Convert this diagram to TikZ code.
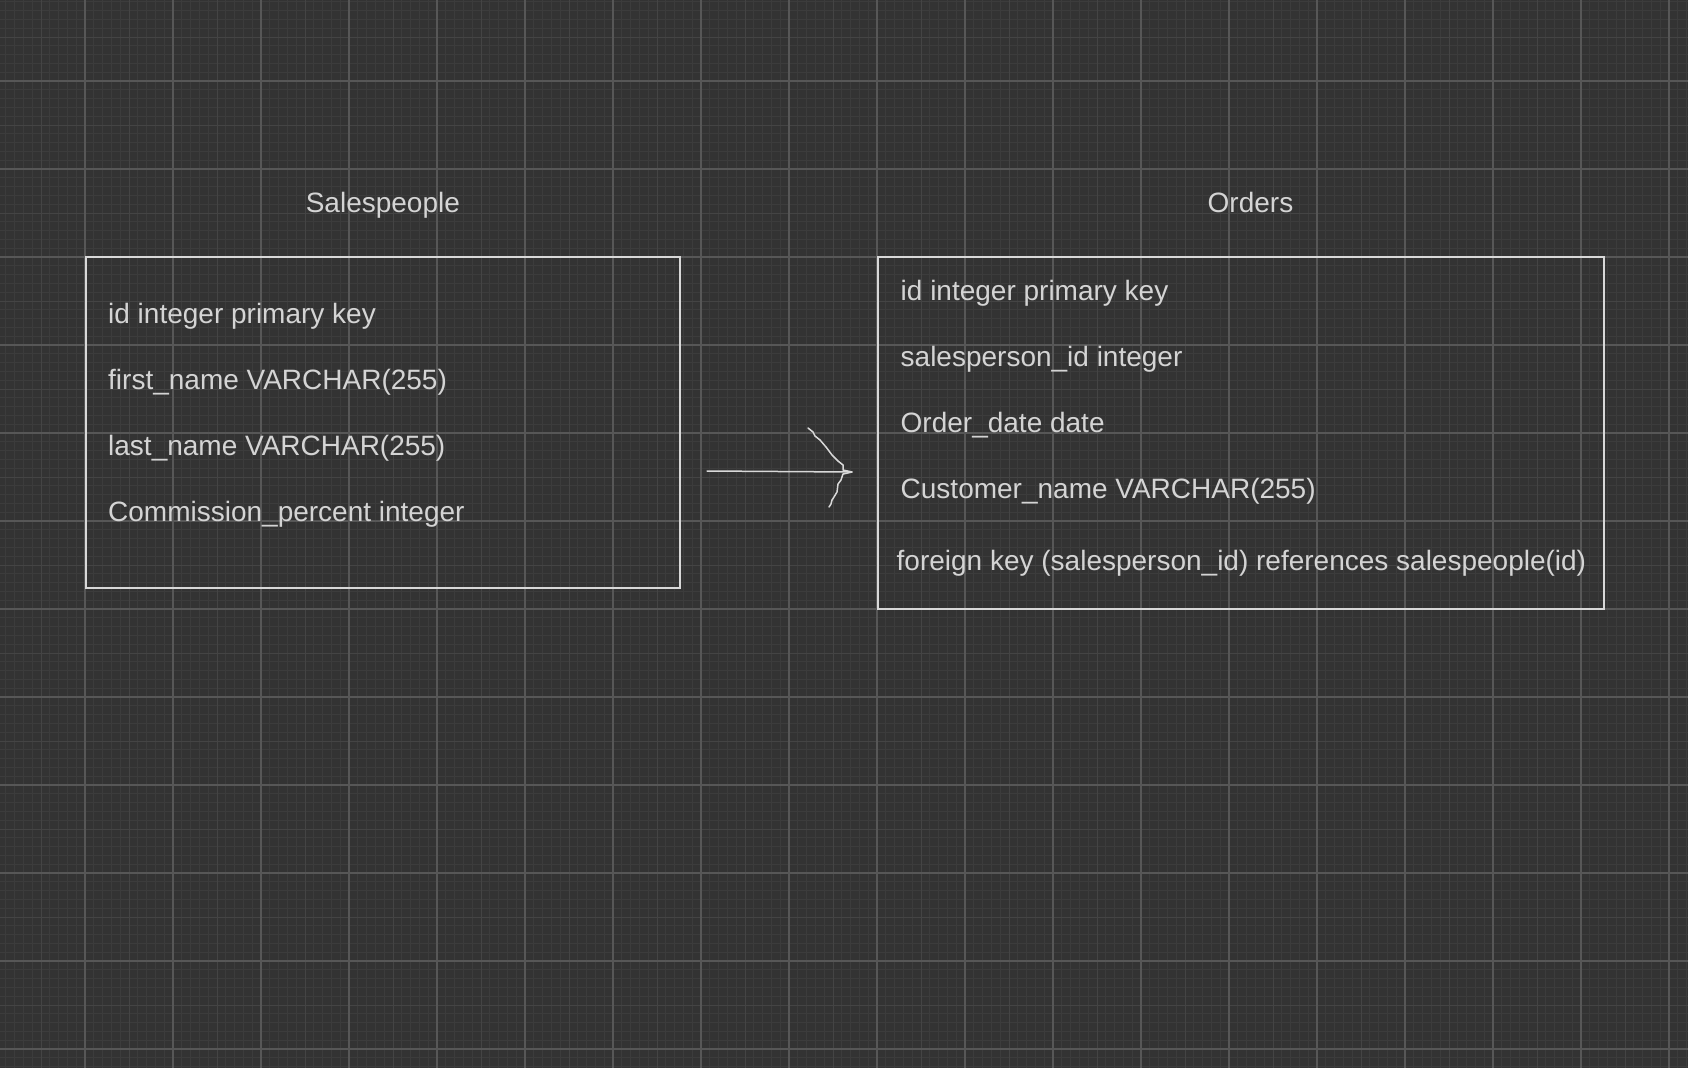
\documentclass[tikz,border=0pt]{standalone}
\usepackage{fontspec}
\setmainfont{Liberation Sans}
\usepackage{xcolor}
\usepackage{tikz}
\usetikzlibrary{positioning}
\definecolor{canvas}{HTML}{333333}
\definecolor{gridminor}{HTML}{3C3C3C}
\definecolor{gridmid}{HTML}{444444}
\definecolor{gridmajor}{HTML}{575757}
\definecolor{ink}{HTML}{D4D4D4}
\definecolor{frame}{HTML}{D8D8D8}
\tikzset{
    table/.style = {
        draw = frame, line width = 1.7pt,
        anchor = north west, inner sep = 0pt
    },
    field/.style = {
        anchor = base west, inner sep = 0pt,
        text = ink,
        font = \fontsize{28}{34}\selectfont
    },
    title/.style = {
        inner sep = 0pt, text depth = 0pt,
        text = ink,
        font = \fontsize{28}{34}\selectfont
    },
    line/.style = {draw = frame, line width = 1.5pt, line cap = round, line join = round},
    minorline/.style = {draw = gridminor, line width = 1pt},
    midline/.style = {draw = gridmid, line width = 1pt},
    majorline/.style = {draw = gridmajor, line width = 1.1pt}
}

\begin{document}
\begin{tikzpicture}[x = 1pt, y = -1pt]

    \fill[canvas] (0,0) rectangle (1688,1068);
    \useasboundingbox (0,0) rectangle (1688,1068);

    % grid
    \foreach \i in {-9,...,182} {
        \draw[minorline] (85+8.8*\i, 0) -- (85+8.8*\i, 1068);
    }
    \foreach \i in {-9,...,112} {
        \draw[minorline] (0, 81+8.8*\i) -- (1688, 81+8.8*\i);
    }
    \foreach \i in {-1,...,18} {
        \draw[midline] (129+88*\i, 0) -- (129+88*\i, 1068);
    }
    \foreach \i in {-1,...,11} {
        \draw[midline] (0, 125+88*\i) -- (1688, 125+88*\i);
    }
    \foreach \i in {-1,...,18} {
        \draw[majorline] (85+88*\i, 0) -- (85+88*\i, 1068);
    }
    \foreach \i in {-1,...,11} {
        \draw[majorline] (0, 81+88*\i) -- (1688, 81+88*\i);
    }

    \node[table, minimum width = 594pt, minimum height = 331pt] (salespeople) at (85,256) {};
    \node[table, minimum width = 726pt, minimum height = 352pt] (orders) at (877,256) {};
    \node[title, above = 43.5pt of salespeople] (salestitle) {Salespeople};
    \node[title, above = 43.5pt of orders, xshift = 9.6pt] (ordertitle) {Orders};

    \node[field] (sid) at (108,323.3) {id integer primary key};
    \node[field] (sfirst) at (108,389.3) {first\_name VARCHAR(255)};
    \node[field] (slast) at (108,455.3) {last\_name VARCHAR(255)};
    \node[field] (scomm) at (108,521.3) {Commission\_percent integer};

    \node[field] (oid) at (900.5,300.7) {id integer primary key};
    \node[field] (operson) at (900.5,366.7) {salesperson\_id integer};
    \node[field] (odate) at (900.5,432.5) {Order\_date date};
    \node[field] (ocust) at (900.5,498.4) {Customer\_name VARCHAR(255)};
    \node[field] (ofk) at (896.5,570.7) {foreign key (salesperson\_id) references salespeople(id)};

    % hand drawn arrow
    \coordinate (fkfrom) at (707,471);
    \coordinate (fktip) at (852,472);
    \draw[line] (fkfrom) -- ([xshift = -1pt]fktip);
    \draw[line] (fktip) -- ++(-9,-2) -- ++(0,-5) -- ++(-5,-4) -- ++(-6,-6)
        -- ++(-6,-8) -- ++(-6,-7) -- ++(-5,-4) -- ++(-2,-4) -- ++(-5,-4);
    \draw[line] (fktip) -- ++(-9,2) -- ++(-2,6) -- ++(-3,4) -- ++(-1,8)
        -- ++(-3,5) -- ++(-2,3) -- ++(-1,4) -- ++(-2,3);

\end{tikzpicture}
\end{document}
